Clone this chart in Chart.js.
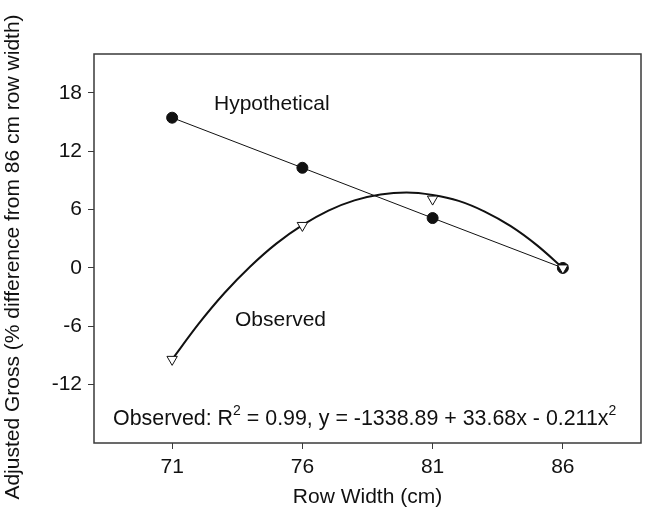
<!DOCTYPE html>
<html lang="en">
  <head>
    <meta charset="UTF-8" />
    <script src="https://cdn.jsdelivr.net/npm/chart.js"></script>
    <title>Adjusted Gross vs Row Width</title>
    <style>
      html, body { margin: 0; padding: 0; background: #fff; overflow: hidden; }
      canvas { display: block; }
    </style>
  </head>
  <body>
    <canvas id="grafico" width="648" height="510"></canvas>
  </body>
</html>
<script>
  // valores
  const rowWidths = [71, 76, 81, 86];
  const hypothetical = [15.45, 10.3, 5.13, 0];
  const observed = [-9.4, 4.37, 7.08, 0];
  // curva ajustada
  const curveX = [71, 72, 73, 74, 75, 76, 77, 78, 79, 80, 81, 82, 83, 84, 85, 86];
  const curveY = [-9.4, -5.8, -2.6, 0.15, 2.5, 4.4, 5.9, 6.95, 7.55, 7.75, 7.5, 6.9, 5.8, 4.3, 2.35, 0];
  const xTicks = [71, 76, 81, 86];
  const yTicks = [-12, -6, 0, 6, 12, 18];

  const FONT = '"Liberation Sans", Arial, sans-serif';
  const INK = "#3a3a3a";

  function pts(xs, ys) {
    return xs.map((x, i) => ({ x: x, y: ys[i] }));
  }

  // moldura, titulo do eixo y e textos
  const extras = {
    id: "extras",
    afterDraw(chart) {
      const c = chart.ctx;
      const a = chart.chartArea;
      c.save();
      c.strokeStyle = INK;
      c.lineWidth = 1.5;
      c.strokeRect(a.left, a.top, a.right - a.left, a.bottom - a.top);

      c.fillStyle = "#111";
      c.font = "21px " + FONT;
      c.textBaseline = "alphabetic";
      c.textAlign = "left";
      c.fillText("Hypothetical", 214, 110);
      c.fillText("Observed", 235, 326);

      // equação com expoentes
      let x = 113;
      const y = 425;
      const parts = [
        ["Observed: R", false],
        ["2", true],
        [" = 0.99, y = -1338.89 + 33.68x - 0.211x", false],
        ["2", true],
      ];
      parts.forEach(([t, sup]) => {
        c.font = (sup ? "14px " : "21.4px ") + FONT;
        c.fillText(t, x, sup ? y - 10 : y);
        x += c.measureText(t).width;
      });

      // titulo do eixo y
      c.translate(13, 257);
      c.rotate(-Math.PI / 2);
      c.font = "21px " + FONT;
      c.textAlign = "center";
      c.textBaseline = "middle";
      c.fillText("Adjusted Gross (% difference from 86 cm row width)", 0, 0);
      c.restore();
    },
  };

  new Chart(document.getElementById("grafico"), {
    type: "scatter",
    data: {
      datasets: [
        {
          label: "Observed",
          data: pts(rowWidths, observed),
          showLine: false,
          pointStyle: "triangle",
          rotation: 180,
          pointRadius: 6,
          pointBackgroundColor: "#fff",
          pointBorderColor: "#111",
          pointBorderWidth: 1,
          order: 0,
        },
        {
          label: "Observed fit",
          data: pts(curveX, curveY),
          showLine: true,
          tension: 0.4,
          cubicInterpolationMode: "monotone",
          borderColor: "#111",
          borderWidth: 2,
          pointRadius: 0,
          order: 2,
        },
        {
          label: "Hypothetical",
          data: pts(rowWidths, hypothetical),
          showLine: true,
          borderColor: "#111",
          borderWidth: 1,
          pointRadius: 5.5,
          pointBackgroundColor: "#111",
          pointBorderColor: "#111",
          order: 1,
        },
      ],
    },
    options: {
      responsive: false,
      animation: false,
      events: [],
      layout: { padding: { top: 54, right: 1, left: 0, bottom: 0 } },
      plugins: {
        legend: { display: false },
        tooltip: { enabled: false },
      },
      scales: {
        x: {
          type: "linear",
          min: 68,
          max: 89,
          afterBuildTicks(s) {
            s.ticks = xTicks.map((v) => ({ value: v }));
          },
          afterFit(s) {
            s.height = 67;
            s.paddingLeft = 0;
            s.paddingRight = 0;
          },
          grid: {
            drawOnChartArea: false,
            drawTicks: true,
            tickLength: 6,
            tickColor: INK,
            color: INK,
          },
          border: { display: false },
          ticks: {
            color: "#111",
            padding: 6,
            font: { family: FONT, size: 21 },
          },
          title: {
            display: true,
            text: "Row Width (cm)",
            color: "#111",
            padding: { top: 0, bottom: 0 },
            font: { family: FONT, size: 21 },
          },
        },
        y: {
          type: "linear",
          min: -18,
          max: 22,
          afterBuildTicks(s) {
            s.ticks = yTicks.map((v) => ({ value: v }));
          },
          afterFit(s) {
            s.width = 94;
            s.paddingTop = 0;
            s.paddingBottom = 0;
          },
          grid: {
            drawOnChartArea: false,
            drawTicks: true,
            tickLength: 6,
            tickColor: INK,
            color: INK,
          },
          border: { display: false },
          ticks: {
            color: "#111",
            padding: 6,
            font: { family: FONT, size: 21 },
          },
        },
      },
    },
    plugins: [extras],
  });
</script>
